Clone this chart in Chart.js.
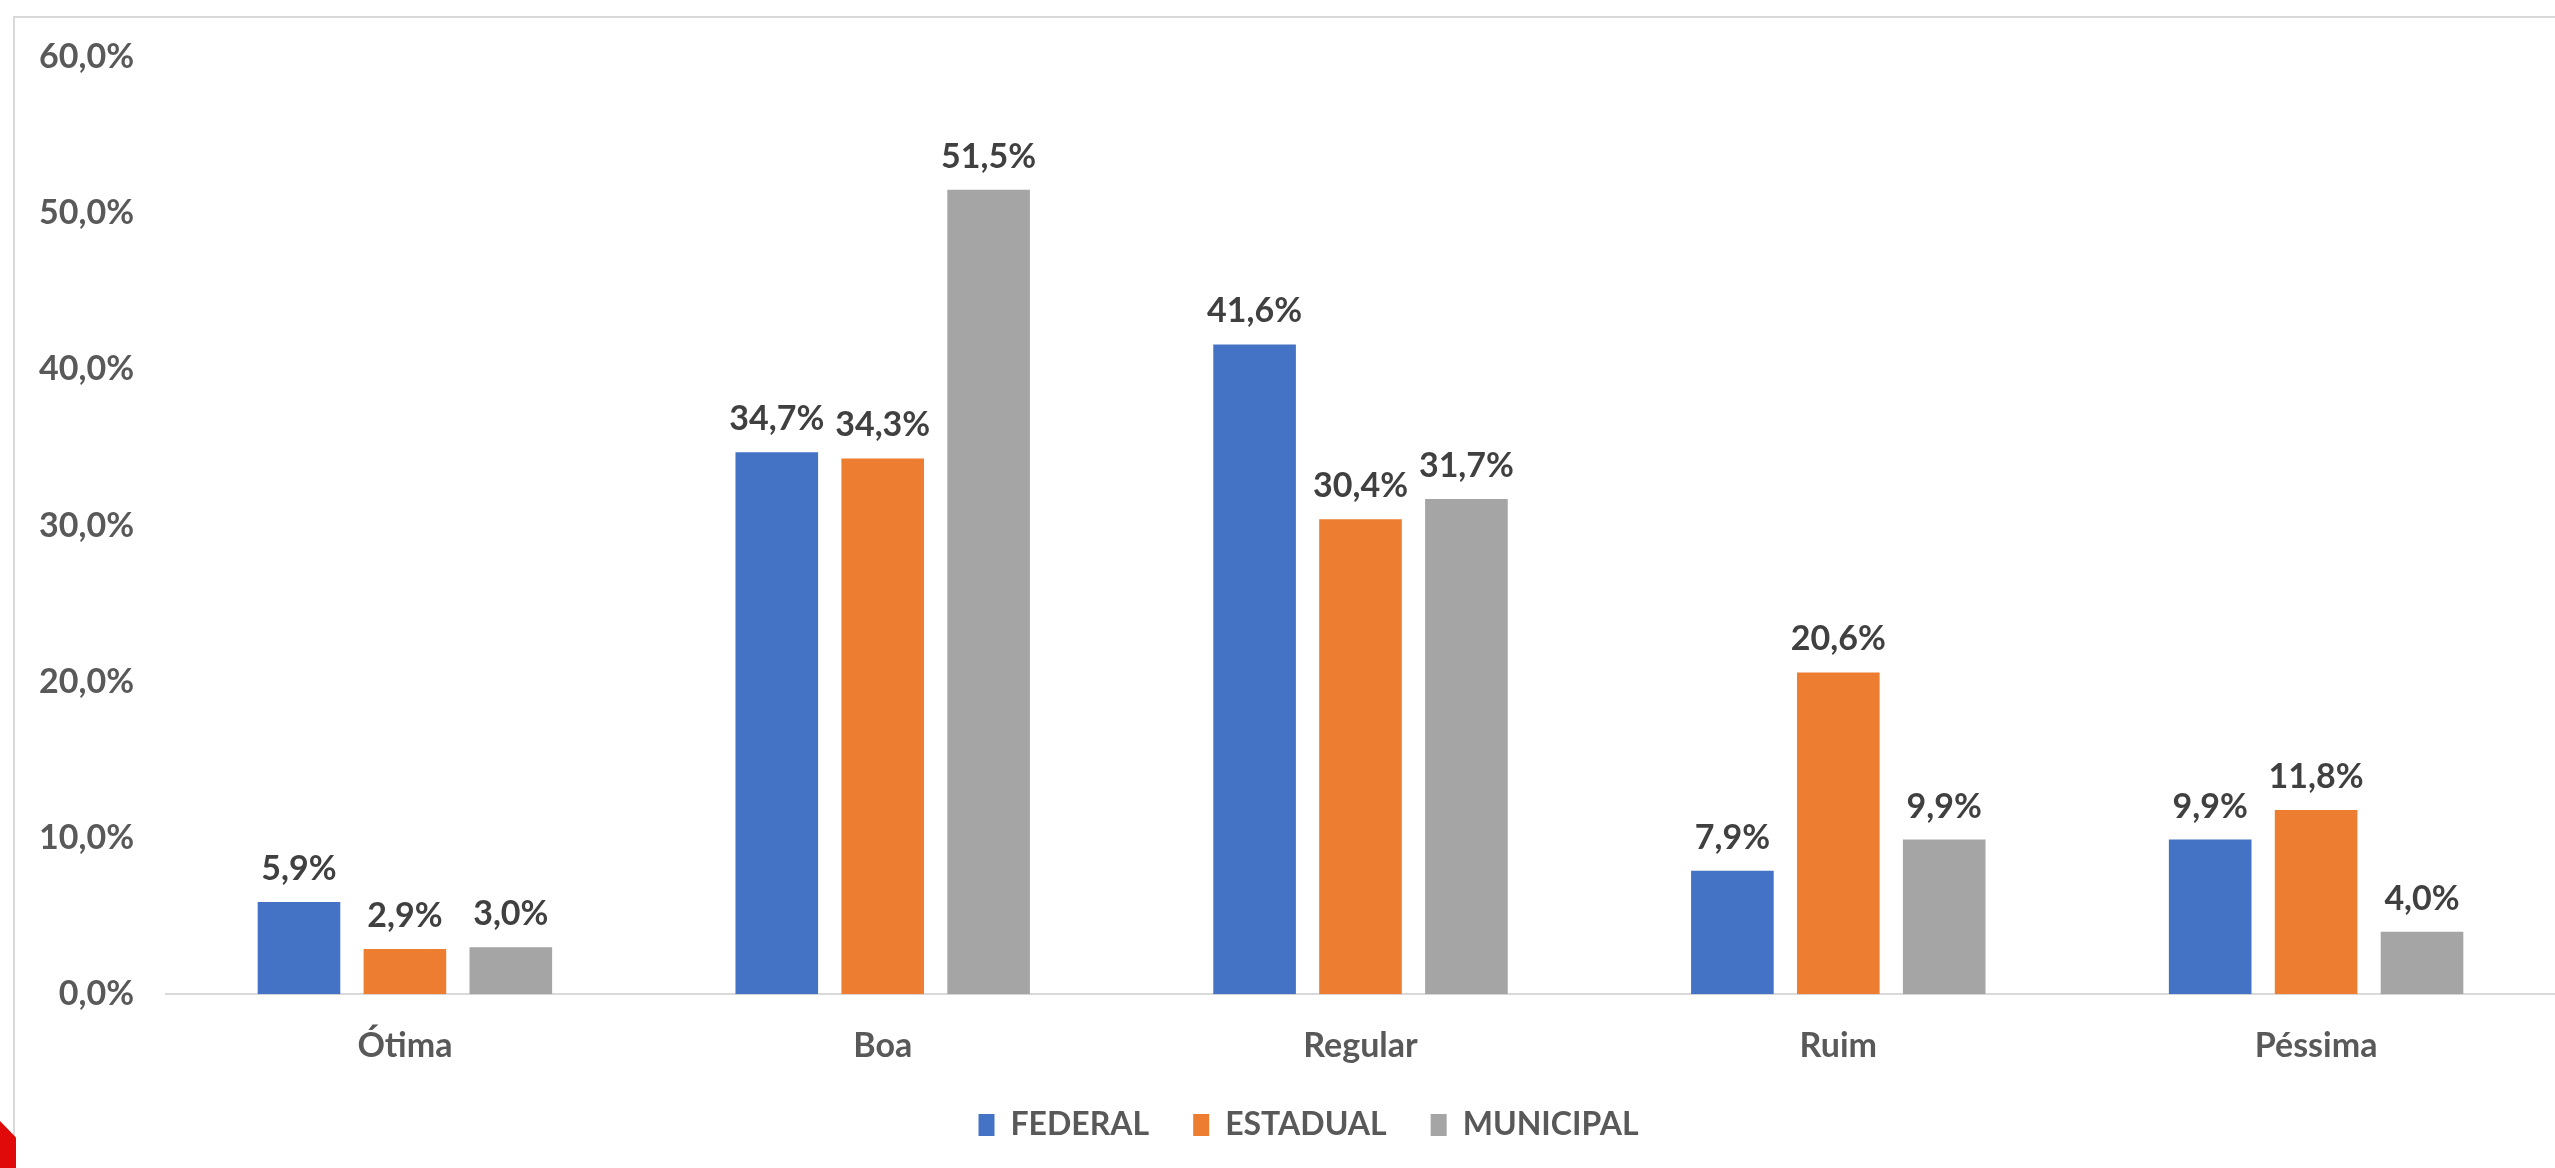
<!DOCTYPE html>
<html><head><meta charset="utf-8">
<script src="https://cdn.jsdelivr.net/npm/chart.js@4"></script>
<style>
html,body{margin:0;padding:0;background:#fff;width:2555px;height:1168px;overflow:hidden;}
#frame{position:absolute;left:13px;top:16px;width:2600px;height:1200px;border-left:2px solid #d9d9d9;border-top:2px solid #d9d9d9;}
#red{position:absolute;left:0;top:1121px;width:16px;height:47px;background:#e00a0a;clip-path:polygon(0 0,100% 35%,100% 100%,0 100%);}
#wrap{position:absolute;left:0;top:0;width:2555px;height:1168px;}
</style></head>
<body>
<div id="frame"></div>
<div id="red"></div>
<div id="wrap"><canvas id="c" width="2555" height="1168"></canvas></div>
<script>
const categories = ["Ótima", "Boa", "Regular", "Ruim", "Péssima"];
const federal = [5.9, 34.7, 41.6, 7.9, 9.9];
const estadual = [2.9, 34.3, 30.4, 20.6, 11.8];
const municipal = [3.0, 51.5, 31.7, 9.9, 4.0];
const seriesNames = ["FEDERAL", "ESTADUAL", "MUNICIPAL"];
const yTicks = [0, 10, 20, 30, 40, 50, 60];

const fmt = v => v.toFixed(1).replace('.', ',') + '%';
const FONT = "Lato, 'Open Sans', sans-serif";

const valueLabels = {
  id: 'valueLabels',
  afterDatasetsDraw(chart) {
    const ctx = chart.ctx;
    ctx.save();
    ctx.font = "bold 34px " + FONT;
    ctx.fillStyle = '#404040';
    ctx.textAlign = 'center';
    ctx.textBaseline = 'middle';
    chart.data.datasets.forEach((ds, i) => {
      const meta = chart.getDatasetMeta(i);
      meta.data.forEach((el, j) => {
        ctx.fillText(fmt(ds.data[j]), el.x, el.y - 33);
      });
    });
    ctx.restore();
  }
};

const legendShift = {
  id: 'legendShift',
  afterLayout(chart) {
    if (chart.legend) { chart.legend.left += 31; chart.legend.right += 31; }
  }
};

new Chart(document.getElementById('c'), {
  type: 'bar',
  data: {
    labels: categories,
    datasets: [
      { label: seriesNames[0], data: federal, backgroundColor: '#4472C4' },
      { label: seriesNames[1], data: estadual, backgroundColor: '#ED7D31' },
      { label: seriesNames[2], data: municipal, backgroundColor: '#A5A5A5' }
    ]
  },
  options: {
    responsive: false,
    animation: false,
    devicePixelRatio: 1,
    categoryPercentage: 0.665,
    barPercentage: 0.78,
    layout: { padding: { top: 57, right: 0, left: 0, bottom: 17 } },
    plugins: {
      tooltip: { enabled: false },
      legend: {
        position: 'bottom',
        labels: {
          font: { family: FONT, size: 32, weight: 'bold' },
          color: '#595959',
          boxWidth: 16,
          boxHeight: 22,
          padding: 44
        }
      }
    },
    scales: {
      x: {
        afterFit: s => { s.height -= 32; },
        grid: { display: false, drawTicks: false },
        border: { display: true, color: '#d9d9d9', width: 2 },
        ticks: { font: { family: FONT, size: 34, weight: 'bold' }, color: '#595959', padding: 31 }
      },
      y: {
        min: 0, max: 60,
        afterBuildTicks: s => { s.ticks = yTicks.map(v => ({ value: v })); },
        afterFit: s => { s.width = 166; },
        grid: { display: false, drawTicks: false },
        border: { display: false },
        ticks: { font: { family: FONT, size: 34, weight: 'bold' }, color: '#595959', padding: 32, callback: v => fmt(v) }
      }
    }
  },
  plugins: [valueLabels, legendShift]
});
</script>
</body></html>
